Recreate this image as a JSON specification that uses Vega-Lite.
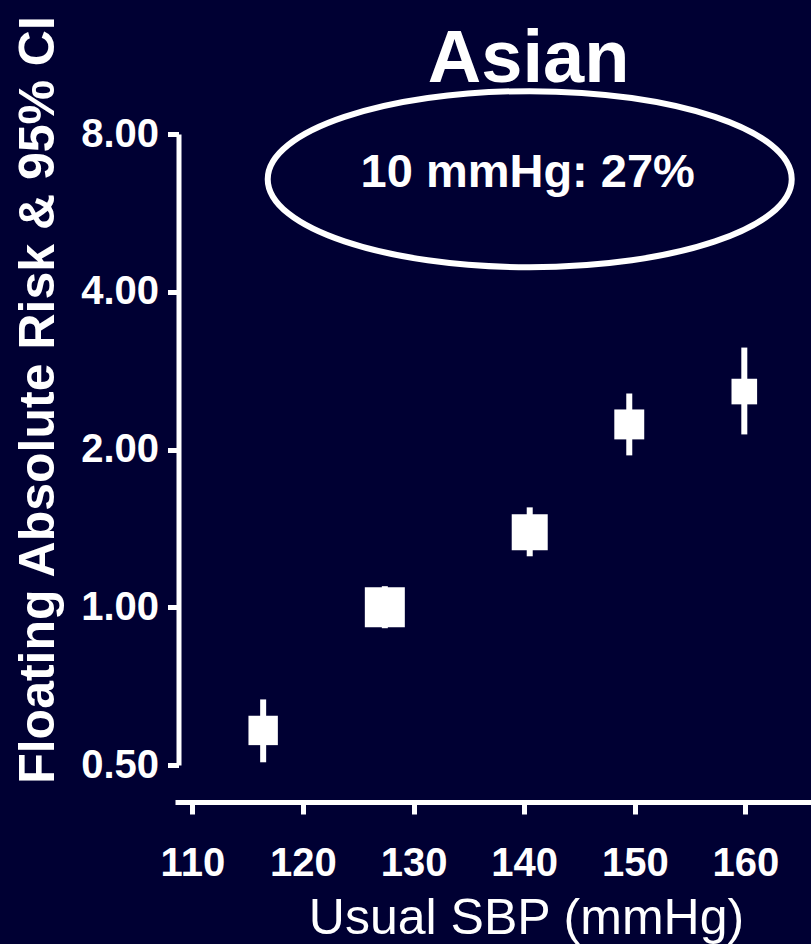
{
  "$schema": "https://vega.github.io/schema/vega-lite/v6.json",
  "width": 636,
  "height": 631,
  "autosize": {"type": "none"},
  "padding": {"left": 175, "top": 134, "right": 0, "bottom": 179},
  "background": "#000033",
  "config": {"view": {"stroke": null}, "font": "Liberation Sans"},
  "datasets": {
    "points": [
      {"sbp": 116.4, "risk": 0.582, "lower": 0.506, "upper": 0.667, "weight": 54},
      {"sbp": 127.4, "risk": 1.0, "lower": 0.912, "upper": 1.097, "weight": 100},
      {"sbp": 140.5, "risk": 1.39, "lower": 1.251, "upper": 1.551, "weight": 81},
      {"sbp": 149.5, "risk": 2.233, "lower": 1.949, "upper": 2.558, "weight": 56},
      {"sbp": 159.9, "risk": 2.58, "lower": 2.137, "upper": 3.13, "weight": 41}
    ],
    "note": [{"sbp": 140.5, "risk": 6.56, "label": "10 mmHg: 27%"}],
    "heading": [{"sbp": 140.4, "risk": 10.07, "label": "Asian"}]
  },
  "layer": [
    {
      "data": {"name": "points"},
      "mark": {"type": "rule", "color": "white", "strokeWidth": 6},
      "encoding": {
        "x": {
          "field": "sbp", "type": "quantitative",
          "scale": {"domain": [108.43, 165.93], "nice": false, "zero": false},
          "axis": {
            "values": [110, 120, 130, 140, 150, 160],
            "title": "Usual SBP (mmHg)",
            "offset": 37,
            "grid": false,
            "domainColor": "white", "domainWidth": 5,
            "tickColor": "white", "tickWidth": 5, "tickSize": 12,
            "labelColor": "white", "labelFont": "Liberation Sans", "labelFontWeight": "bold", "labelFontSize": 40,
            "labelPadding": 29, "labelFlush": false, "labelOverlap": false,
            "titleColor": "white", "titleFont": "Liberation Sans", "titleFontWeight": "normal", "titleFontSize": 50,
            "titleX": 351, "titleY": 131, "titleBaseline": "alphabetic", "titleAlign": "center"
          }
        },
        "y": {
          "field": "lower", "type": "quantitative",
          "scale": {"type": "log", "base": 2, "domain": [0.5, 8], "nice": false},
          "axis": {
            "values": [0.5, 1, 2, 4, 8],
            "format": ".2f",
            "title": "Floating Absolute Risk & 95% CI",
            "offset": -3.5,
            "grid": false,
            "domainColor": "white", "domainWidth": 5,
            "tickColor": "white", "tickWidth": 5, "tickSize": 11,
            "labelColor": "white", "labelFont": "Liberation Sans", "labelFontWeight": "bold", "labelFontSize": 40,
            "labelPadding": 9, "labelFlush": false, "labelOverlap": false,
            "titleColor": "white", "titleFont": "Liberation Sans", "titleFontWeight": "bold", "titleFontSize": 50,
            "titleX": -125.5, "titleY": 265.5, "titleBaseline": "alphabetic", "titleAlign": "center", "titleAngle": -90
          }
        },
        "y2": {"field": "upper"}
      }
    },
    {
      "data": {"name": "points"},
      "mark": {"type": "point", "shape": "square", "filled": true, "color": "white", "opacity": 1, "strokeWidth": 0},
      "encoding": {
        "x": {"field": "sbp", "type": "quantitative"},
        "y": {"field": "risk", "type": "quantitative"},
        "size": {"field": "weight", "type": "quantitative", "scale": {"domain": [0, 100], "range": [0, 1600]}, "legend": null}
      }
    },
    {
      "data": {"name": "note"},
      "mark": {"type": "point", "shape": "M -1 0 A 1 0.336 0 1 1 1 0 A 1 0.336 0 1 1 -1 0 Z", "filled": false, "stroke": "white", "strokeWidth": 6, "opacity": 1, "size": 274576},
      "encoding": {
        "x": {"field": "sbp", "type": "quantitative"},
        "y": {"field": "risk", "type": "quantitative"}
      }
    },
    {
      "data": {"name": "note"},
      "mark": {"type": "text", "color": "white", "font": "Liberation Sans", "fontWeight": "bold", "fontSize": 47, "align": "center", "baseline": "middle", "dx": -2, "dy": -6},
      "encoding": {
        "x": {"field": "sbp", "type": "quantitative"},
        "y": {"field": "risk", "type": "quantitative"},
        "text": {"field": "label"}
      }
    },
    {
      "data": {"name": "heading"},
      "mark": {"type": "text", "color": "white", "font": "Liberation Sans", "fontWeight": "bold", "fontSize": 74, "align": "center", "baseline": "alphabetic"},
      "encoding": {
        "x": {"field": "sbp", "type": "quantitative"},
        "y": {"field": "risk", "type": "quantitative"},
        "text": {"field": "label"}
      }
    }
  ]
}
